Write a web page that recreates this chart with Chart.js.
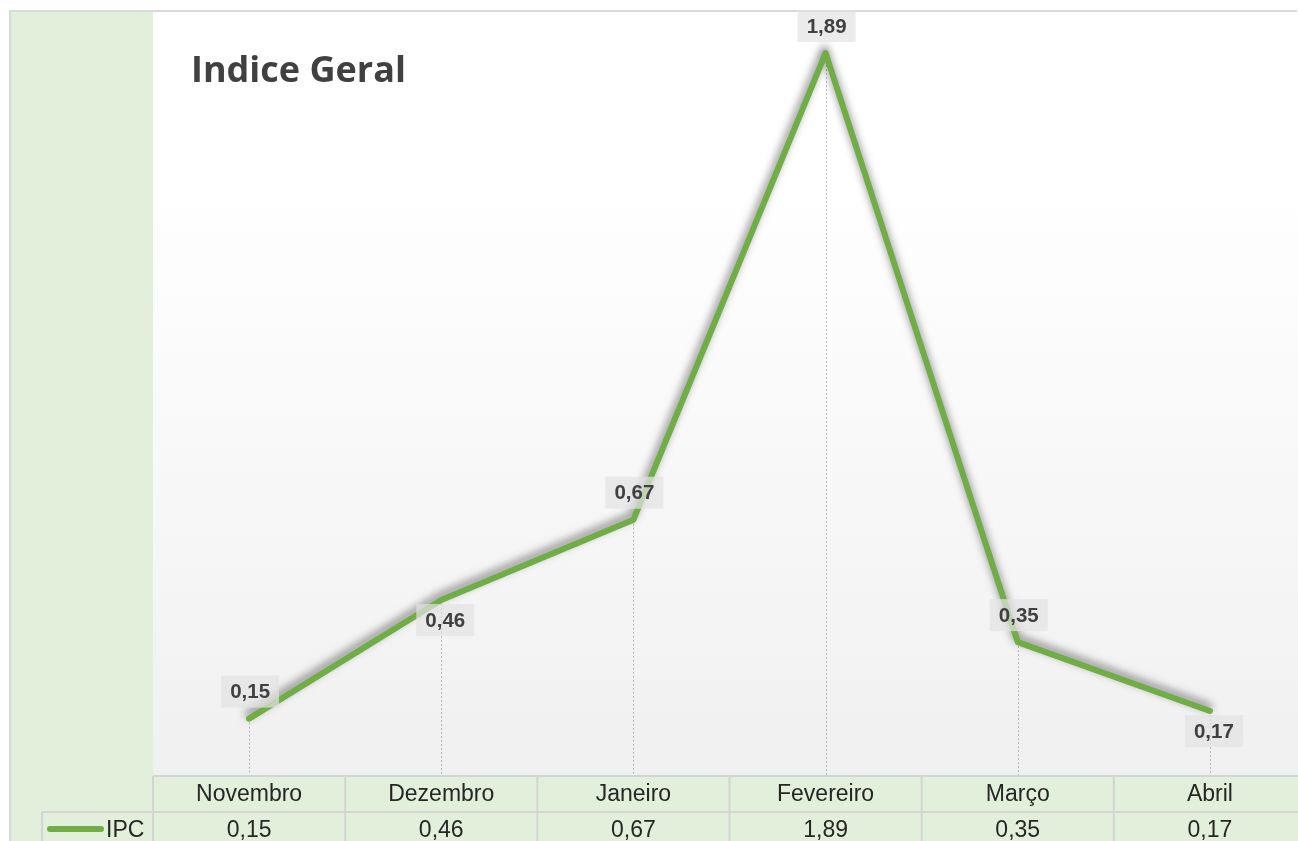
<!DOCTYPE html>
<html>
<head>
<meta charset="utf-8">
<script src="https://cdn.jsdelivr.net/npm/chart.js@4.4.1/dist/chart.umd.min.js"></script>
<style>
  html, body { margin: 0; padding: 0; overflow: hidden; background: #ffffff; }
  #wrap { position: absolute; left: 0; top: 0; width: 1320px; height: 841px; }
</style>
</head>
<body>
<div id="wrap"><canvas id="c"></canvas></div>
<script>
// ---- data ----
const categories = ['Novembro', 'Dezembro', 'Janeiro', 'Fevereiro', 'Março', 'Abril'];
const ipcValues = [0.15, 0.46, 0.67, 1.89, 0.35, 0.17];
const seriesName = 'IPC';
const chartTitle = 'Indice Geral';

// ---- style ----
const GREEN = '#70ad47';
const PANEL = '#e2efda';
const GRID = '#d4d4d4';
const labelSide = ['top', 'bottom', 'top', 'top', 'top', 'bottom'];

function fmt(v) { return v.toFixed(2).replace('.', ','); }

const decor = {
  id: 'decor',
  beforeDraw(chart) {
    const { ctx, chartArea: a, width, height } = chart;
    ctx.save();
    ctx.fillStyle = '#ffffff';
    ctx.fillRect(0, 0, width, height);
    ctx.fillStyle = PANEL;
    ctx.fillRect(11, 12, a.left - 11, height - 12);
    const g = ctx.createLinearGradient(0, a.top, 0, a.bottom);
    g.addColorStop(0, '#ffffff');
    g.addColorStop(0.22, '#ffffff');
    g.addColorStop(1, '#f0f0f0');
    ctx.fillStyle = g;
    ctx.fillRect(a.left, 12, width - a.left, a.bottom - 12);
    ctx.strokeStyle = '#d9d9d9';
    ctx.lineWidth = 2;
    ctx.beginPath();
    ctx.moveTo(10, height);
    ctx.lineTo(10, 11);
    ctx.lineTo(1297, 11);
    ctx.stroke();
    ctx.fillStyle = '#404040';
    ctx.font = 'bold 36px "Open Sans", "DejaVu Sans", sans-serif';
    ctx.textAlign = 'left';
    ctx.textBaseline = 'alphabetic';
    ctx.fillText(chartTitle, 191, 82);
    const meta = chart.getDatasetMeta(0);
    ctx.strokeStyle = '#b5b5b5';
    ctx.lineWidth = 1;
    ctx.setLineDash([2, 2]);
    meta.data.forEach(p => {
      ctx.beginPath();
      ctx.moveTo(Math.round(p.x) + 0.5, p.y);
      ctx.lineTo(Math.round(p.x) + 0.5, a.bottom);
      ctx.stroke();
    });
    ctx.restore();
  },
  beforeDatasetDraw(chart) {
    const ctx = chart.ctx;
    ctx.save();
    ctx.shadowColor = 'rgba(0,0,0,0.5)';
    ctx.shadowBlur = 9;
    ctx.shadowOffsetX = -1;
    ctx.shadowOffsetY = -4;
  },
  afterDatasetDraw(chart) {
    chart.ctx.restore();
  },
  afterDraw(chart) {
    const { ctx, chartArea: a, scales } = chart;
    const meta = chart.getDatasetMeta(0);
    const ds = chart.data.datasets[0];
    ctx.save();
    ctx.font = 'bold 20.5px "Liberation Sans", Arial, sans-serif';
    ctx.textAlign = 'center';
    ctx.textBaseline = 'middle';
    meta.data.forEach((p, i) => {
      const cy = labelSide[i] === 'top' ? p.y - 27 : p.y + 20;
      const cx = p.x + (labelSide[i] === 'top' ? 1 : 4);
      ctx.fillStyle = 'rgba(226,226,226,0.7)';
      ctx.fillRect(cx - 29, cy - 16, 58, 32);
      ctx.fillStyle = '#404040';
      ctx.fillText(fmt(ds.data[i]), cx, cy + 1);
    });
    const x = scales.x;
    const n = categories.length;
    const cw = (a.right - a.left) / n;
    const r1 = a.bottom, r2 = a.bottom + 36, r3 = a.bottom + 72;
    ctx.fillStyle = PANEL;
    ctx.fillRect(a.left, r1, a.right - a.left, r3 - r1);
    ctx.fillRect(42, r2, a.left - 42, r3 - r2);
    ctx.strokeStyle = GRID;
    ctx.lineWidth = 2;
    ctx.beginPath();
    ctx.moveTo(a.left, r1); ctx.lineTo(a.right, r1);
    ctx.moveTo(42, r2); ctx.lineTo(a.right, r2);
    ctx.moveTo(42, r2); ctx.lineTo(42, r3);
    for (let i = 0; i <= n; i++) {
      const xx = a.left + i * cw;
      ctx.moveTo(xx, r1); ctx.lineTo(xx, r3);
    }
    ctx.stroke();
    ctx.fillStyle = '#262626';
    ctx.font = '23px "Liberation Sans", Arial, sans-serif';
    ctx.textAlign = 'center';
    ctx.textBaseline = 'middle';
    categories.forEach((c, i) => {
      const cx = x.getPixelForValue(i);
      ctx.fillText(c, cx, (r1 + r2) / 2 + 1);
      ctx.fillText(fmt(ds.data[i]), cx, (r2 + r3) / 2 + 1);
    });
    ctx.strokeStyle = GREEN;
    ctx.lineWidth = 6;
    ctx.lineCap = 'round';
    ctx.beginPath();
    ctx.moveTo(50, r2 + 17); ctx.lineTo(101, r2 + 17);
    ctx.stroke();
    ctx.textAlign = 'left';
    ctx.fillStyle = '#262626';
    ctx.fillText(seriesName, 106, (r2 + r3) / 2 + 1);
    ctx.restore();
  }
};

new Chart(document.getElementById('c'), {
  type: 'line',
  data: {
    labels: categories,
    datasets: [{
      label: seriesName,
      data: ipcValues,
      borderColor: GREEN,
      borderWidth: 6,
      borderCapStyle: 'round',
      borderJoinStyle: 'round',
      pointRadius: 0,
      pointHoverRadius: 0,
      tension: 0,
      fill: false,
      clip: false
    }]
  },
  options: {
    responsive: true,
    maintainAspectRatio: false,
    animation: false,
    events: [],
    layout: { padding: { left: 153, top: 11, right: 14, bottom: 65 } },
    plugins: { legend: { display: false }, tooltip: { enabled: false }, title: { display: false } },
    scales: {
      x: { type: 'category', offset: true, display: false },
      y: { min: 0, max: 2, display: false }
    }
  },
  plugins: [decor]
});
</script>
</body>
</html>
